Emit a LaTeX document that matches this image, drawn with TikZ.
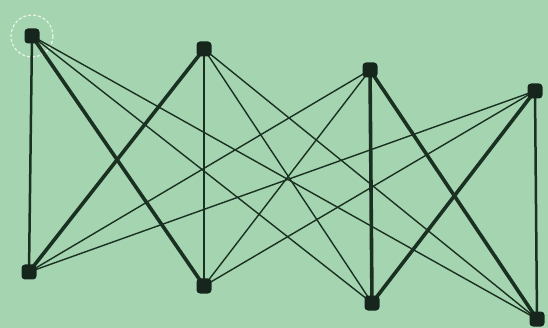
\documentclass[tikz,border=0pt]{standalone}
\pgfdeclarelayer{background}
\pgfsetlayers{background,main}
\begin{document}
\begin{tikzpicture}[x=1pt,y=-1pt,
  vtx/.style={rectangle,rounded corners=3.5pt,fill=nodec,minimum size=15pt,inner sep=0pt},
  thin/.style={draw=edgec,line width=1.4pt},
  mid/.style={draw=edgec,line width=2.5pt},
  thick/.style={draw=edgec,line width=3.6pt}]
\definecolor{bgc}{RGB}{165,212,176}
\definecolor{edgec}{RGB}{26,48,33}
\definecolor{nodec}{RGB}{22,38,28}
\node[vtx] (t1) at (32,36) {};
\node[vtx] (t2) at (204,49) {};
\node[vtx] (t3) at (370,70) {};
\node[vtx] (t4) at (535,91) {};
\node[vtx] (b1) at (29,272) {};
\node[vtx] (b2) at (204,286) {};
\node[vtx] (b3) at (372,303) {};
\node[vtx] (b4) at (537,319) {};
\begin{pgfonlayer}{background}
\fill[bgc] (0,0) rectangle (548,328);
\draw[white!75!bgc,line width=1.2pt,dash pattern=on 3pt off 2pt] (t1.center) circle (21);
\draw[mid] (t1.center) -- (b1.center);
\draw[thick] (t1.center) -- (b2.center);
\draw[thin] (t1.center) -- (b3.center);
\draw[thin] (t1.center) -- (b4.center);
\draw[thick] (t2.center) -- (b1.center);
\draw[mid] (t2.center) -- (b2.center);
\draw[thin] (t2.center) -- (b3.center);
\draw[thin] (t2.center) -- (b4.center);
\draw[thin] (t3.center) -- (b1.center);
\draw[thin] (t3.center) -- (b2.center);
\draw[thick] (t3.center) -- (b3.center);
\draw[thick] (t3.center) -- (b4.center);
\draw[thin] (t4.center) -- (b1.center);
\draw[thin] (t4.center) -- (b2.center);
\draw[thick] (t4.center) -- (b3.center);
\draw[mid] (t4.center) -- (b4.center);
\end{pgfonlayer}
\useasboundingbox (0,0) rectangle (548,328);
\end{tikzpicture}
\end{document}
